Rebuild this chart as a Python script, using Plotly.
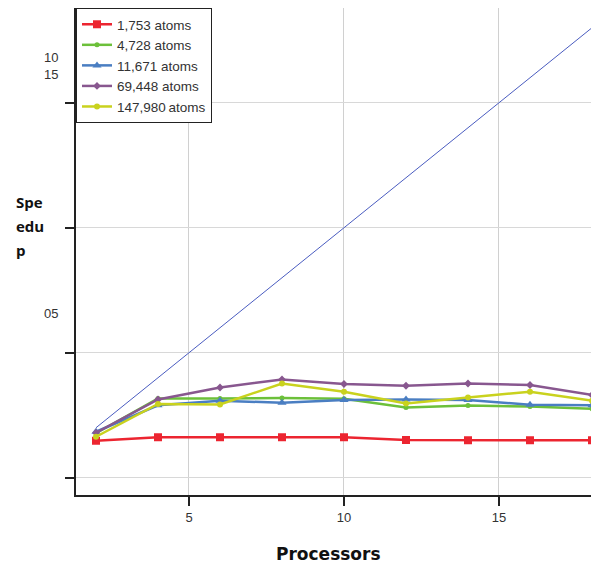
import plotly.graph_objects as go

processors = [2, 4, 6, 8, 10, 12, 14, 16, 18]
series_names = ["1,753 atoms", "4,728 atoms", "11,671 atoms", "69,448 atoms", "147,980\u2009atoms"]
speedup_1753 = [1.48, 1.62, 1.62, 1.62, 1.62, 1.51, 1.50, 1.50, 1.50]
speedup_4728 = [1.78, 3.17, 3.17, 3.19, 3.16, 2.81, 2.89, 2.85, 2.76]
speedup_11671 = [1.84, 2.90, 3.08, 3.00, 3.11, 3.13, 3.11, 2.92, 2.90]
speedup_69448 = [1.80, 3.13, 3.61, 3.93, 3.75, 3.68, 3.77, 3.71, 3.31]
speedup_147980 = [1.64, 2.95, 2.93, 3.77, 3.44, 2.97, 3.21, 3.44, 3.08]
ideal_x = [2, 18]
ideal_y = [2, 18]
x_ticks = [5, 10, 15]
y_ticks = [0, 5, 10, 15]

colors = ["#ec2530", "#6cc03a", "#4a7ec2", "#88578f", "#c9d21e"]
symbols = ["square", "circle", "triangle-up", "diamond", "circle"]
msizes = [8, 5, 8, 6, 6]
series = [speedup_1753, speedup_4728, speedup_11671, speedup_69448, speedup_147980]

fig = go.Figure()
fig.add_trace(go.Scatter(x=ideal_x, y=ideal_y, mode="lines",
                         line=dict(color="#4a5cc0", width=1), showlegend=False))
for name, ys, c, s, ms in zip(series_names, series, colors, symbols, msizes):
    fig.add_trace(go.Scatter(x=processors, y=ys, mode="lines+markers", name=name,
                             line=dict(color=c, width=2.5),
                             marker=dict(symbol=s, size=ms, color=c)))

fig.update_layout(
    width=591, height=555,
    margin=dict(l=68, r=0, t=0, b=68, autoexpand=False),
    plot_bgcolor="white", paper_bgcolor="white",
    font=dict(family="Liberation Sans, Arial", size=13, color="#333333"),
    legend=dict(x=0, y=1, xanchor="left", yanchor="top",
                bgcolor="white", bordercolor="#222222", borderwidth=1,
                font=dict(size=13.5, color="#333333"), tracegroupgap=0,
                itemwidth=30),
    xaxis=dict(range=[1.355, 18.226], tickvals=x_ticks, showgrid=True, automargin=False,
               gridcolor="#d0d0d0", gridwidth=1, zeroline=False,
               showline=True, linecolor="#222222", linewidth=2, mirror=True,
               ticks="outside", ticklen=9, tickcolor="#222222", tickwidth=2,
               tickfont=dict(size=13, color="#333333")),
    yaxis=dict(range=[-0.69, 18.79], tickvals=y_ticks, showticklabels=False, automargin=False,
               showgrid=True, gridcolor="#d8d8d8", gridwidth=1, zeroline=False,
               showline=True, linecolor="#222222", linewidth=2, mirror=True,
               ticks="outside", ticklen=9, tickcolor="#222222", tickwidth=2),
)

fig.add_annotation(text="<b>Processors</b>", xref="paper", yref="paper",
                   x=0.482, y=-0.121, xanchor="center", yanchor="middle", showarrow=False,
                   font=dict(family="DejaVu Sans", size=17, color="#111111"))
for txt, yy in [("Spe", 0.6016), ("edu", 0.5524), ("p", 0.503)]:
    fig.add_annotation(text="<b>%s</b>" % txt, xref="paper", yref="paper",
                       x=-0.1185, y=yy, xanchor="left", yanchor="middle", showarrow=False,
                       font=dict(family="Open Sans, Noto Sans", size=15, color="#111111"))
fig.add_annotation(text="10<br>15", xref="paper", yref="paper",
                   x=-0.031, y=0.918, xanchor="right", yanchor="top", showarrow=False, align="right",
                   font=dict(size=13, color="#333333"))
fig.add_annotation(text="05", xref="paper", yref="paper",
                   x=-0.031, y=0.372, xanchor="right", yanchor="middle", showarrow=False,
                   font=dict(size=13, color="#333333"))

fig.write_html("out.html")
